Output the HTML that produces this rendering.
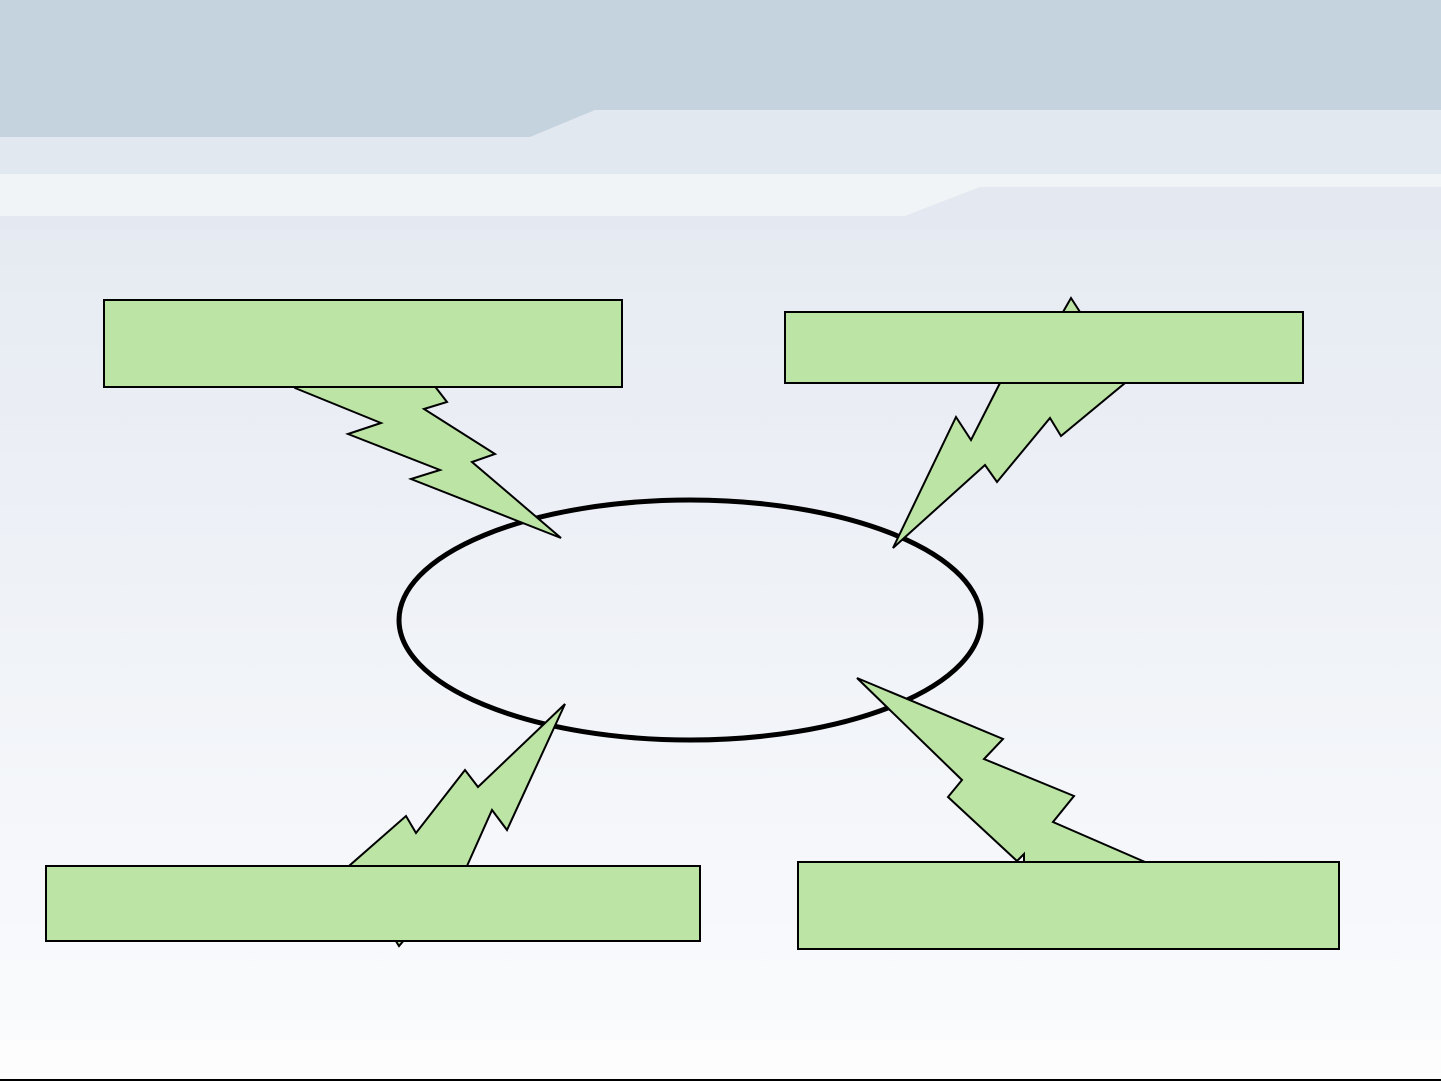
<!DOCTYPE html>
<html><head><style>html,body{margin:0;padding:0;width:1441px;height:1081px;overflow:hidden;background:#fff;font-family:"Liberation Sans",sans-serif}</style></head>
<body>
<svg width="1441" height="1081" xmlns="http://www.w3.org/2000/svg" style="display:block">
<defs>
<linearGradient id="bg" x1="0" y1="0" x2="0" y2="1">
<stop offset="0" stop-color="#e4e9f1"/>
<stop offset="1" stop-color="#fafbfd"/>
</linearGradient>
</defs>
<rect x="0" y="0" width="1441" height="1081" fill="#fdfdfd"/>
<rect x="0" y="160" width="1441" height="880" fill="url(#bg)"/>
<rect x="0" y="0" width="1441" height="220" fill="#e2e8f0"/>
<path d="M0 0 H1441 V110 H595 L530 137 H0 Z" fill="#c5d3df"/>
<path d="M0 174 H1441 V187 H980 L905 216 H0 Z" fill="#f0f4f7"/>
<path d="M0 216 H905 L980 187 H1441 V230 H0 Z" fill="#e4e9f1"/>
<!-- ellipse -->
<ellipse cx="690" cy="620" rx="291" ry="120" fill="none" stroke="#000" stroke-width="5"/>
<g fill="#bce4a4" stroke="#000" stroke-width="2" stroke-linejoin="miter">
<polygon points="295,388 381,423 348,434 440,470 411,479 561,538 472,462 495,454 424,409 447,402 430,380 290,380"/>
<polygon points="893,548 956,417 971,440 1000,383 1063,312 1071,298 1080,312 1125,383 1061,436 1050,418 997,482 985,465"/>
<polygon points="565,704 478,787 465,770 416,833 406,816 349,866 399,946 467,866 492,810 507,830"/>
<polygon points="857,678 1003,739 984,759 1074,796 1053,822 1145,862 1024,862 1024,854 1017,861 948,797 962,780"/>
<rect x="104" y="300" width="518" height="87"/>
<rect x="785" y="312" width="518" height="71"/>
<rect x="46" y="866" width="654" height="75"/>
<rect x="798" y="862" width="541" height="87"/>
</g>
<rect x="0" y="1079" width="1441" height="2" fill="#000"/>
</svg>
</body></html>
